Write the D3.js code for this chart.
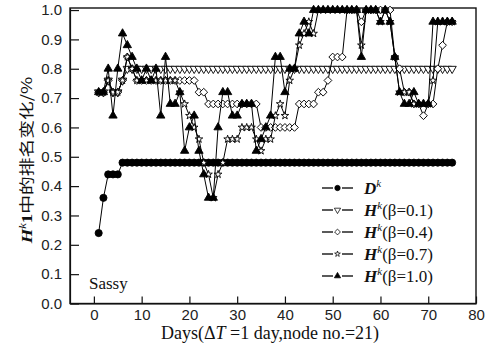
<!DOCTYPE html>
<meta charset="utf-8">
<style>
  body { margin: 0; background: #fff; }
  text { fill: #111; }
</style>
<body>
<script src="https://cdn.jsdelivr.net/npm/d3@7/dist/d3.min.js"></script>
<script>

// days 1..75
var days = [1,2,3,4,5,6,7,8,9,10,11,12,13,14,15,16,17,18,19,20,
            21,22,23,24,25,26,27,28,29,30,31,32,33,34,35,36,37,38,39,40,
            41,42,43,44,45,46,47,48,49,50,51,52,53,54,55,56,57,58,59,60,
            61,62,63,64,65,66,67,68,69,70,71,72,73,74,75];

var dk = [0.24,0.36,0.44,0.44,0.44,0.48,0.48,0.48,0.48,0.48,
          0.48,0.48,0.48,0.48,0.48,0.48,0.48,0.48,0.48,0.48,
          0.48,0.48,0.48,0.48,0.48,0.48,0.48,0.48,0.48,0.48,
          0.48,0.48,0.48,0.48,0.48,0.48,0.48,0.48,0.48,0.48,
          0.48,0.48,0.48,0.48,0.48,0.48,0.48,0.48,0.48,0.48,
          0.48,0.48,0.48,0.48,0.48,0.48,0.48,0.48,0.48,0.48,
          0.48,0.48,0.48,0.48,0.48,0.48,0.48,0.48,0.48,0.48,
          0.48,0.48,0.48,0.48,0.48];

var h01 = [0.72,0.72,0.76,0.72,0.72,0.76,0.80,0.80,0.80,0.80,
           0.80,0.80,0.80,0.80,0.80,0.80,0.80,0.80,0.80,0.80,
           0.80,0.80,0.80,0.80,0.80,0.80,0.80,0.80,0.80,0.80,
           0.80,0.80,0.80,0.80,0.80,0.80,0.80,0.80,0.80,0.80,
           0.80,0.80,0.80,0.80,0.80,0.80,0.80,0.80,0.80,0.80,
           0.80,0.80,0.80,0.80,0.80,0.80,0.80,0.80,0.80,0.80,
           0.80,0.80,0.80,0.80,0.80,0.80,0.80,0.80,0.80,0.80,
           0.80,0.80,0.80,0.80,0.80];

var h04 = [0.72,0.72,0.76,0.72,0.72,0.76,0.84,0.80,0.76,0.76,
           0.76,0.76,0.76,0.76,0.76,0.76,0.76,0.76,0.76,0.76,
           0.76,0.72,0.72,0.68,0.68,0.68,0.68,0.68,0.68,0.68,
           0.68,0.68,0.68,0.68,0.60,0.60,0.60,0.60,0.60,0.60,
           0.60,0.60,0.68,0.68,0.68,0.68,0.72,0.72,0.76,0.84,
           0.84,0.84,1.00,1.00,1.00,0.96,1.00,1.00,1.00,1.00,
           1.00,1.00,0.84,0.80,0.72,0.72,0.68,0.68,0.64,0.68,
           0.68,0.80,0.88,0.96,0.96];

var h07 = [0.72,0.72,0.76,0.72,0.72,0.76,0.84,0.80,0.76,0.76,
           0.76,0.76,0.76,0.76,0.76,0.76,0.76,0.72,0.68,0.64,
           0.60,0.56,0.48,0.44,0.36,0.44,0.48,0.56,0.56,0.56,
           0.60,0.60,0.60,0.56,0.52,0.56,0.56,0.64,0.68,0.64,
           0.76,0.80,0.88,0.92,0.96,0.92,1.00,1.00,1.00,1.00,
           1.00,1.00,1.00,1.00,1.00,0.88,1.00,1.00,1.00,0.96,
           1.00,0.96,0.84,0.72,0.72,0.72,0.68,0.68,0.68,0.68,
           0.76,0.96,0.96,0.96,0.96];

var h10 = [0.72,0.72,0.80,0.64,0.80,0.92,0.88,0.84,0.80,0.76,
           0.80,0.76,0.80,0.64,0.84,0.68,0.68,0.72,0.52,0.60,
           0.64,0.52,0.44,0.36,0.36,0.60,0.72,0.72,0.64,0.64,
           0.68,0.68,0.68,0.52,0.56,0.60,0.64,0.84,0.84,0.72,
           0.80,0.80,0.92,0.96,0.92,1.00,1.00,1.00,1.00,1.00,
           1.00,1.00,1.00,1.00,1.00,0.84,1.00,1.00,1.00,0.96,
           1.00,0.96,0.84,0.72,0.68,0.68,0.72,0.68,0.68,0.68,
           0.96,0.96,0.96,0.96,0.96];

var xTicks = [0,10,20,30,40,50,60,70,80];
var yTicks = [0.0,0.1,0.2,0.3,0.4,0.5,0.6,0.7,0.8,0.9,1.0];
var betas = ["0.1","0.4","0.7","1.0"];

var width = 486, height = 346;
var mLeft = 70, mRight = 476, mTop = 8, mBottom = 303.5;

var svg = d3.select("body").append("svg")
    .attr("width", width)
    .attr("height", height)
    .style("font-family", "'Liberation Serif', serif");

var x = d3.scaleLinear().domain([-5, 80]).range([mLeft, mRight]);
var y = d3.scaleLinear().domain([0, 1.007]).range([mBottom, mTop]);

// axes, ticks point inwards
svg.append("g")
    .attr("transform", "translate(" + mLeft + ",0)")
    .call(d3.axisLeft(y).tickValues(yTicks).tickFormat(d3.format(".1f"))
        .tickSizeInner(-9).tickSizeOuter(0).tickPadding(8));

svg.append("g")
    .attr("transform", "translate(0," + mBottom + ")")
    .call(d3.axisBottom(x).tickValues(xTicks)
        .tickSizeInner(-7).tickSizeOuter(0).tickPadding(6));

svg.selectAll(".tick text")
    .style("font-family", "'Liberation Sans', Arial, sans-serif")
    .style("font-size", "15px")
    .style("fill", "#222");
svg.selectAll(".tick line, .domain").attr("stroke", "#111").attr("stroke-width", 1.2);

svg.append("rect")
    .attr("x", mLeft).attr("y", mTop)
    .attr("width", mRight - mLeft).attr("height", mBottom - mTop)
    .attr("fill", "none").attr("stroke", "#111").attr("stroke-width", 1.4);

// marker shapes
var sym = {
  circle:  { path: d3.symbol(d3.symbolCircle, 40)(),   rot: 0,   fill: "#000" },
  down:    { path: d3.symbol(d3.symbolTriangle, 30)(), rot: 180, fill: "#fff" },
  diamond: { path: d3.symbol(d3.symbolSquare, 30)(),   rot: 45,  fill: "#fff" },
  star:    { path: d3.symbol(d3.symbolStar, 18)(),     rot: 0,   fill: "#fff" },
  up:      { path: d3.symbol(d3.symbolTriangle, 30)(), rot: 0,   fill: "#000" }
};

var series = [
  { values: dk,  shape: "circle" },
  { values: h01, shape: "down" },
  { values: h04, shape: "diamond" },
  { values: h07, shape: "star" },
  { values: h10, shape: "up" }
];

var line = d3.line()
    .x(function(d) { return x(d[0]); })
    .y(function(d) { return y(d[1]); });

series.forEach(function(s) {
  var pts = days.map(function(d, i) { return [d, s.values[i]]; });
  var g = svg.append("g");
  g.append("path")
      .attr("d", line(pts))
      .attr("fill", "none")
      .attr("stroke", "#000")
      .attr("stroke-width", 1);
  g.selectAll("path.m")
    .data(pts)
    .enter().append("path")
      .attr("class", "m")
      .attr("d", sym[s.shape].path)
      .attr("transform", function(d) {
        return "translate(" + x(d[0]) + "," + y(d[1]) + ") rotate(" + sym[s.shape].rot + ")";
      })
      .attr("fill", sym[s.shape].fill)
      .attr("stroke", "#000")
      .attr("stroke-width", 0.9);
});

// legend
var legendSym = ["circle", "down", "diamond", "star", "up"];
var legend = svg.append("g");
legendSym.forEach(function(k, i) {
  var ly = 188 + i * 22;
  legend.append("line").attr("x1", 322).attr("x2", 333).attr("y1", ly).attr("y2", ly)
      .attr("stroke", "#000").attr("stroke-width", 1.3);
  legend.append("line").attr("x1", 342).attr("x2", 353).attr("y1", ly).attr("y2", ly)
      .attr("stroke", "#000").attr("stroke-width", 1.3);
  legend.append("path")
      .attr("d", sym[k].path)
      .attr("transform", "translate(337.5," + ly + ") rotate(" + sym[k].rot + ") scale(0.75)")
      .attr("fill", sym[k].fill)
      .attr("stroke", "#000")
      .attr("stroke-width", 1);
  var t = legend.append("text")
      .attr("x", 364).attr("y", ly + 6)
      .style("font-size", "17px");
  t.append("tspan").attr("font-weight", "bold").attr("font-style", "italic")
      .text(i === 0 ? "D" : "H");
  t.append("tspan").attr("font-style", "italic").attr("font-size", "11px")
      .attr("dy", -7).text("k");
  if (i > 0) {
    t.append("tspan").attr("dy", 7).text("(β=" + betas[i - 1] + ")");
  }
});

svg.append("text")
    .attr("x", 89).attr("y", 289)
    .style("font-size", "17px")
    .text("Sassy");

// x title
var xt = svg.append("text")
    .attr("x", 270).attr("y", 339)
    .attr("text-anchor", "middle")
    .style("font-size", "18px");
xt.append("tspan").text("Days(Δ");
xt.append("tspan").attr("font-style", "italic").text("T");
xt.append("tspan").text(" =1 day,node no.=21)");

// y title
var yt = svg.append("text")
    .attr("transform", "translate(32,160) rotate(-90) scale(1.25,1)")
    .attr("text-anchor", "middle")
    .style("font-size", "15px");
yt.append("tspan").attr("font-weight", "bold").attr("font-style", "italic").text("H");
yt.append("tspan").attr("font-style", "italic").attr("font-size", "10px").attr("dy", -6).text("k");
yt.append("tspan").attr("font-weight", "bold").attr("dy", 6).text("1");
yt.append("tspan").style("font-family", "'Noto Sans CJK SC', sans-serif").text("中的排名变化/%");

</script>
</body>
